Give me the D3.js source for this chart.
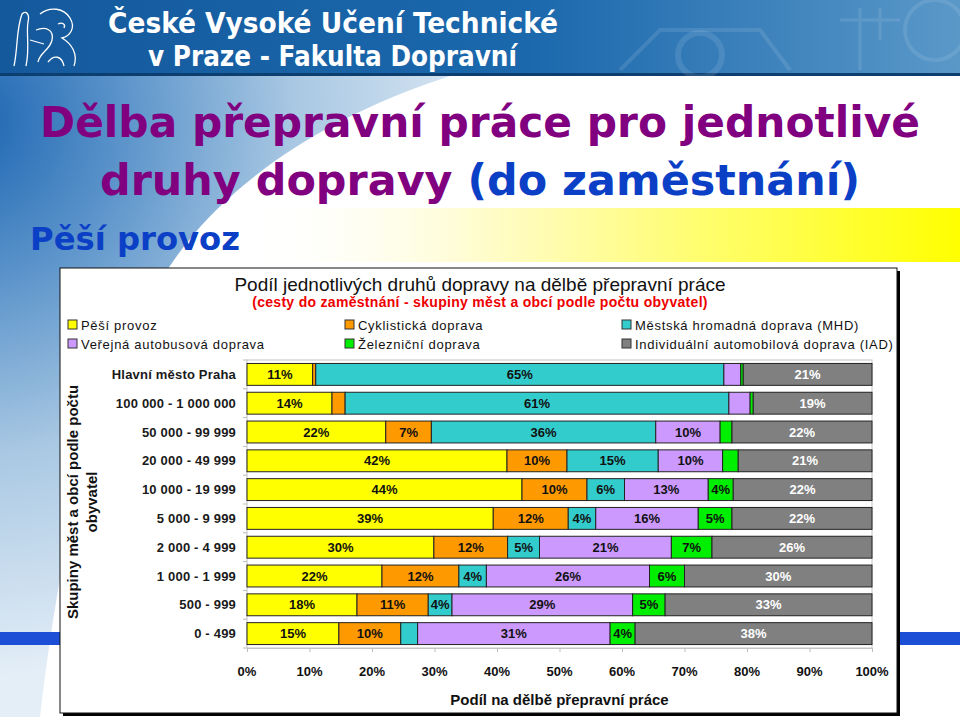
<!DOCTYPE html>
<html>
<head>
<meta charset="utf-8">
<script src="https://cdn.jsdelivr.net/npm/d3@7"></script>
<style>
  body { margin: 0; background: #fff; }
  svg { display: block; }
  .hdr { font-family: "Liberation Sans Narrow", "DejaVu Sans Condensed", Arial, sans-serif; font-weight: bold; fill: #fff; }
  .big { font-family: "DejaVu Sans", Verdana, sans-serif; font-weight: bold; }
  .chart-title { font-family: "Liberation Sans", Arial, sans-serif; font-size: 19px; fill: #111; }
  .chart-sub { font-family: "Liberation Sans", Arial, sans-serif; font-size: 14px; font-weight: bold; fill: #ee0000; letter-spacing: 0.3px; }
  .legend-text { font-family: "Liberation Sans", Arial, sans-serif; font-size: 13px; fill: #111; letter-spacing: 0.7px; }
  .row-label { font-family: "Liberation Sans", Arial, sans-serif; font-size: 13px; font-weight: bold; fill: #1a1a1a; letter-spacing: 0.2px; }
  .seg-label { font-family: "Liberation Sans", Arial, sans-serif; font-size: 13px; font-weight: bold; }
  .tick-label { font-family: "Liberation Sans", Arial, sans-serif; font-size: 13px; font-weight: bold; fill: #111; }
  .axis-title { font-family: "Liberation Sans", Arial, sans-serif; font-size: 15px; font-weight: bold; fill: #111; }
</style>
</head>
<body>
<script>
// categories (rows, top to bottom)
const groups = [
  "Hlavní město Praha", "100 000 - 1 000 000", "50 000 - 99 999", "20 000 - 49 999",
  "10 000 - 19 999", "5 000 - 9 999", "2 000 - 4 999", "1 000 - 1 999", "500 - 999", "0 - 499"
];

// series, in stacking order
const modes = [
  "Pěší provoz", "Cyklistická doprava", "Městská hromadná doprava (MHD)",
  "Veřejná autobusová doprava", "Železniční doprava", "Individuální automobilová doprava (IAD)"
];
const modeColors = ["#ffff00", "#ff9900", "#33cccc", "#cc99ff", "#00ee00", "#808080"];

// shares in % per row
const pesi  = [10.5, 13.6, 22.2, 41.6, 44.0, 39.4, 29.9, 21.6, 17.6, 14.7];
const cyklo = [ 0.5,  2.1,  7.3,  9.6, 10.4, 12.0, 11.8, 12.3, 11.4,  9.9];
const mhd   = [65.3, 61.4, 35.9, 14.6,  6.0,  4.4,  5.1,  4.4,  3.8,  2.7];
const bus   = [ 2.7,  3.4, 10.3, 10.3, 13.4, 16.4, 21.1, 26.1, 28.9, 30.8];
const vlak  = [ 0.4,  0.5,  1.9,  2.5,  4.0,  5.4,  6.5,  5.6,  5.2,  4.0];
const iad   = [20.6, 19.0, 22.4, 21.4, 22.2, 22.4, 25.6, 30.0, 33.1, 37.9];

const ticks = [0, 10, 20, 30, 40, 50, 60, 70, 80, 90, 100];

const series = [pesi, cyklo, mhd, bus, vlak, iad];
const table = groups.map((g, i) => {
  const row = { group: g };
  modes.forEach((m, k) => row[m] = series[k][i]);
  return row;
});

const width = 960, height = 717;
const svg = d3.select("body").append("svg")
  .attr("width", width)
  .attr("height", height);

// shrink a text's font until its natural width fits the wanted width
function fitText(sel, target) {
  const node = sel.node();
  const size = parseFloat(sel.attr("font-size"));
  const len = node.getComputedTextLength();
  if (len > target) sel.attr("font-size", (size * target / len).toFixed(2));
  sel.attr("textLength", target).attr("lengthAdjust", "spacingAndGlyphs");
}

const defs = svg.append("defs");

const hdrGrad = defs.append("linearGradient").attr("id", "hdr").attr("x1", 0).attr("x2", 1);
hdrGrad.append("stop").attr("offset", 0).attr("stop-color", "#14599c");
hdrGrad.append("stop").attr("offset", 0.55).attr("stop-color", "#1b68ad");
hdrGrad.append("stop").attr("offset", 1).attr("stop-color", "#5a98c8");

const swoosh = defs.append("radialGradient").attr("id", "swoosh")
  .attr("gradientUnits", "userSpaceOnUse")
  .attr("cx", -40).attr("cy", 120).attr("r", 560);
swoosh.append("stop").attr("offset", 0).attr("stop-color", "#1862b0");
swoosh.append("stop").attr("offset", 0.3).attr("stop-color", "#5d95cb");
swoosh.append("stop").attr("offset", 0.6).attr("stop-color", "#a9c8e3");
swoosh.append("stop").attr("offset", 1).attr("stop-color", "#e4eef7");

const yel = defs.append("linearGradient").attr("id", "yel").attr("x1", 0).attr("x2", 1);
yel.append("stop").attr("offset", 0).attr("stop-color", "#ffffff").attr("stop-opacity", 0);
yel.append("stop").attr("offset", 0.35).attr("stop-color", "#fffcc8");
yel.append("stop").attr("offset", 1).attr("stop-color", "#ffff00");

// background
svg.append("path")
  .attr("d", "M0,76 L450,76 C330,115 240,175 185,245 C120,330 70,460 40,717 L0,717 Z")
  .attr("fill", "url(#swoosh)");

svg.append("rect")
  .attr("x", 240).attr("y", 208).attr("width", 720).attr("height", 54)
  .attr("fill", "url(#yel)");

// header banner
svg.append("rect").attr("width", width).attr("height", 74).attr("fill", "url(#hdr)");
svg.append("rect").attr("y", 73).attr("width", width).attr("height", 3).attr("fill", "#0d3e70");

// faint machinery on the right of the banner
const deco = svg.append("g").attr("fill", "none").attr("stroke", "#d6e8f6").attr("stroke-opacity", 0.13);
deco.append("circle").attr("cx", 700).attr("cy", 55).attr("r", 22).attr("stroke-width", 6);
deco.append("circle").attr("cx", 935).attr("cy", 30).attr("r", 30).attr("stroke-width", 4);
deco.append("path").attr("d", "M860,8 L860,70 M840,20 L900,20 M880,8 L880,40").attr("stroke-width", 3);
deco.append("path").attr("d", "M620,70 L660,30 L760,30 L790,70").attr("stroke-width", 4);

// logo outline
const logo = svg.append("g").attr("fill", "none").attr("stroke", "#fff").attr("stroke-width", 1.3);
logo.append("path").attr("d", "M14,66 C18,48 16,30 22,14 C26,10 30,14 28,22 C26,34 30,48 26,66");
logo.append("path").attr("d", "M40,14 C50,6 64,8 70,18 C76,28 70,36 62,38 C72,44 78,54 74,66");
logo.append("path").attr("d", "M36,30 C46,26 54,30 52,40 C50,50 40,52 38,62 M48,62 C54,54 62,56 64,66");
logo.append("path").attr("d", "M30,40 L44,44 M58,24 C62,22 66,24 64,28");

fitText(svg.append("text").attr("class", "hdr")
  .attr("x", 108).attr("y", 33).attr("font-size", 29)
  .text("České Vysoké Učení Technické"), 450);
fitText(svg.append("text").attr("class", "hdr")
  .attr("x", 148).attr("y", 66).attr("font-size", 29)
  .text("v Praze - Fakulta Dopravní"), 369);

// slide title
fitText(svg.append("text").attr("class", "big")
  .attr("x", 480).attr("y", 137).attr("text-anchor", "middle")
  .attr("font-size", 46).attr("fill", "#800080")
  .text("Dělba přepravní práce pro jednotlivé"), 880);
const t2 = svg.append("text").attr("class", "big")
  .attr("x", 480).attr("y", 195).attr("text-anchor", "middle")
  .attr("font-size", 46);
t2.append("tspan").attr("fill", "#800080").text("druhy dopravy ");
t2.append("tspan").attr("fill", "#0b3fc6").text("(do zaměstnání)");
fitText(t2, 760);

fitText(svg.append("text").attr("class", "big")
  .attr("x", 30).attr("y", 250).attr("font-size", 34).attr("fill", "#0b3fc6")
  .text("Pěší provoz"), 210);

// blue connector strips
svg.append("rect").attr("x", 0).attr("y", 632).attr("width", 62).attr("height", 13).attr("fill", "#1d4fd6");
svg.append("rect").attr("x", 898).attr("y", 632).attr("width", 62).attr("height", 13).attr("fill", "#1d4fd6");

// chart frame with shadow
svg.append("rect").attr("x", 63).attr("y", 271).attr("width", 837).attr("height", 445).attr("fill", "#000");
svg.append("rect").attr("x", 60).attr("y", 268).attr("width", 837).attr("height", 445)
  .attr("fill", "#fff").attr("stroke", "#111").attr("stroke-width", 1);

svg.append("text").attr("class", "chart-title")
  .attr("x", 480).attr("y", 291).attr("text-anchor", "middle")
  .text("Podíl jednotlivých druhů dopravy na dělbě přepravní práce");
svg.append("text").attr("class", "chart-sub")
  .attr("x", 480).attr("y", 307).attr("text-anchor", "middle")
  .text("(cesty do zaměstnání - skupiny měst a obcí podle počtu obyvatel)");

// legend: 3 columns x 2 rows
const legendCols = [68, 345, 622];
const legendRows = [325, 344];
const legend = svg.append("g").selectAll("g")
  .data(d3.range(modes.length))
  .join("g")
  .attr("transform", k => `translate(${legendCols[k % 3]},${legendRows[Math.floor(k / 3)]})`);
legend.append("rect")
  .attr("x", 0).attr("y", -5).attr("width", 9).attr("height", 9)
  .attr("fill", k => modeColors[k]).attr("stroke", "#333").attr("stroke-width", 1);
legend.append("text").attr("class", "legend-text")
  .attr("x", 13).attr("y", 0).attr("dy", "0.35em")
  .text(k => modes[k]);

// plot
const x = d3.scaleLinear().domain([0, 100]).range([247, 872]);
const y = d3.scaleBand().domain(groups).range([360, 648]).paddingInner(0.24).paddingOuter(0.12);

svg.append("rect")
  .attr("x", x(0)).attr("y", 360).attr("width", x(100) - x(0)).attr("height", 288)
  .attr("fill", "none").attr("stroke", "#c4c4c4");

// left tick marks between rows
svg.append("g").selectAll("line")
  .data(d3.range(groups.length + 1))
  .join("line")
  .attr("x1", x(0) - 4).attr("x2", x(0))
  .attr("y1", i => 360 + i * (288 / groups.length))
  .attr("y2", i => 360 + i * (288 / groups.length))
  .attr("stroke", "#bdbdbd");

const xAxis = svg.append("g")
  .attr("transform", "translate(0,648)")
  .call(d3.axisBottom(x).tickValues(ticks).tickSize(4).tickFormat(""));
xAxis.select(".domain").attr("stroke", "#c4c4c4");
xAxis.selectAll(".tick line").attr("stroke", "#bdbdbd");

svg.append("g").selectAll("text")
  .data(ticks)
  .join("text")
  .attr("class", "tick-label")
  .attr("x", d => x(d)).attr("y", 676)
  .attr("text-anchor", "middle")
  .text(d => d + "%");

svg.append("text").attr("class", "axis-title")
  .attr("x", (x(0) + x(100)) / 2).attr("y", 705).attr("text-anchor", "middle")
  .text("Podíl na dělbě přepravní práce");

// row labels
svg.append("g").selectAll("text")
  .data(groups)
  .join("text")
  .attr("class", "row-label")
  .attr("x", 236)
  .attr("y", g => y(g) + y.bandwidth() / 2)
  .attr("dy", "0.35em")
  .attr("text-anchor", "end")
  .text(g => g);

// y title
const yt = svg.append("text").attr("class", "axis-title")
  .attr("transform", "translate(78,502) rotate(-90)")
  .attr("text-anchor", "middle");
yt.append("tspan").attr("x", 0).attr("y", 0).text("Skupiny měst a obcí podle počtu");
yt.append("tspan").attr("x", 0).attr("y", 19).text("obyvatel");

// stacked bars
const stack = d3.stack().keys(modes)(table);

const layers = svg.append("g").selectAll("g")
  .data(stack)
  .join("g")
  .attr("fill", (d, i) => modeColors[i]);

layers.selectAll("rect")
  .data(d => d)
  .join("rect")
  .attr("x", d => x(d[0]))
  .attr("y", d => y(d.data.group))
  .attr("width", d => x(d[1]) - x(d[0]))
  .attr("height", y.bandwidth())
  .attr("stroke", "#222")
  .attr("stroke-width", 1);

const labels = svg.append("g");
stack.forEach((layer, i) => {
  labels.selectAll(null)
    .data(layer.filter(d => d[1] - d[0] >= 3.5))
    .join("text")
    .attr("class", "seg-label")
    .attr("x", d => (x(d[0]) + x(d[1])) / 2)
    .attr("y", d => y(d.data.group) + y.bandwidth() / 2)
    .attr("dy", "0.36em")
    .attr("text-anchor", "middle")
    .attr("fill", i === 5 ? "#fff" : "#111")
    .text(d => Math.round(d[1] - d[0]) + "%");
});
</script>
</body>
</html>
